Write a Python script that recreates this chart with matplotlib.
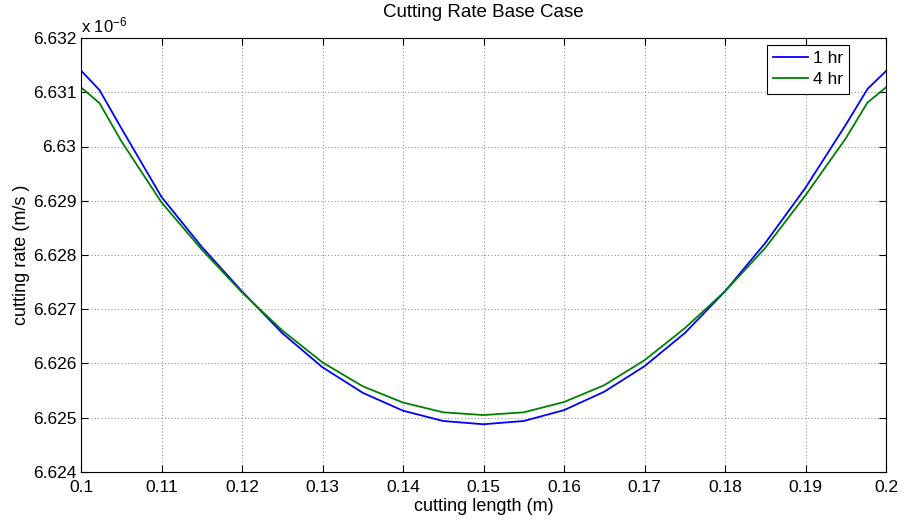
import matplotlib
matplotlib.use("Agg")
import matplotlib.pyplot as plt
from matplotlib.ticker import FuncFormatter
import numpy as np

plt.rcParams['font.family'] = ['Liberation Sans', 'DejaVu Sans']
plt.rcParams['mathtext.default'] = 'regular'

# cutting length (m)
length = [0.1, 0.1023, 0.105, 0.11, 0.115, 0.12, 0.125, 0.13, 0.135, 0.14, 0.145, 0.15,
          0.155, 0.16, 0.165, 0.17, 0.175, 0.18, 0.185, 0.19, 0.195, 0.1977, 0.2]

# cutting rate, in units of 1e-6 m/s
rate_1hr = [6.63140, 6.63104, 6.63034, 6.62907, 6.62815, 6.62733, 6.62656, 6.62593,
            6.62546, 6.62513, 6.62494, 6.62488, 6.62494, 6.62514, 6.62548, 6.62595,
            6.62656, 6.62733, 6.62822, 6.62924, 6.63040, 6.63106, 6.63139]
rate_4hr = [6.63109, 6.63080, 6.63010, 6.62897, 6.62810, 6.62731, 6.62661, 6.62602,
            6.62558, 6.62528, 6.62510, 6.62505, 6.62510, 6.62529, 6.62560, 6.62606,
            6.62665, 6.62733, 6.62813, 6.62910, 6.63015, 6.63081, 6.63109]

x_ticks = [0.1, 0.11, 0.12, 0.13, 0.14, 0.15, 0.16, 0.17, 0.18, 0.19, 0.2]
y_ticks = [6.624, 6.625, 6.626, 6.627, 6.628, 6.629, 6.63, 6.631, 6.632]

fig = plt.figure(figsize=(9.06, 5.20), dpi=100)
ax = fig.add_axes([81/906, 1-472/520, (886-81)/906, (472-38)/520])

ax.plot(length, rate_1hr, color=(0, 0, 1), lw=1.3, label='1 hr')
ax.plot(length, rate_4hr, color=(0, 0.5, 0), lw=1.3, label='4 hr')

ax.set_xlim(0.1, 0.2)
ax.set_ylim(6.624, 6.632)
ax.set_xticks(x_ticks)
ax.set_yticks(y_ticks)
fmt = FuncFormatter(lambda v, p: '%g' % round(v, 4))
ax.xaxis.set_major_formatter(fmt)
ax.yaxis.set_major_formatter(fmt)
ax.tick_params(direction='in', top=True, right=True, length=5, width=0.8,
               labelsize=12.5, colors='black')
ax.tick_params(axis='x', pad=6)
ax.grid(True, linestyle=(0, (1, 3)), color='#555555', linewidth=0.6)
for s in ax.spines.values():
    s.set_linewidth(0.8)

ax.set_title('Cutting Rate Base Case', fontsize=13.5, pad=15)
ax.set_xlabel('cutting length (m)', fontsize=13, labelpad=2)
ax.set_ylabel('cutting rate (m/s )', fontsize=13, labelpad=2)
ax.text(0.0, 1.006, r'x 10$^{-6}$', transform=ax.transAxes, fontsize=12,
        ha='left', va='bottom')

leg = ax.legend(loc='upper right', bbox_to_anchor=((849-81)/805, 1-(45-38)/434),
                borderaxespad=0, fontsize=12.5, fancybox=False, framealpha=1,
                edgecolor='black', handlelength=2.0,
                borderpad=0.35, labelspacing=0.35, handletextpad=0.3)
leg.get_frame().set_linewidth(0.8)

fig.savefig('out.png', dpi=100)
